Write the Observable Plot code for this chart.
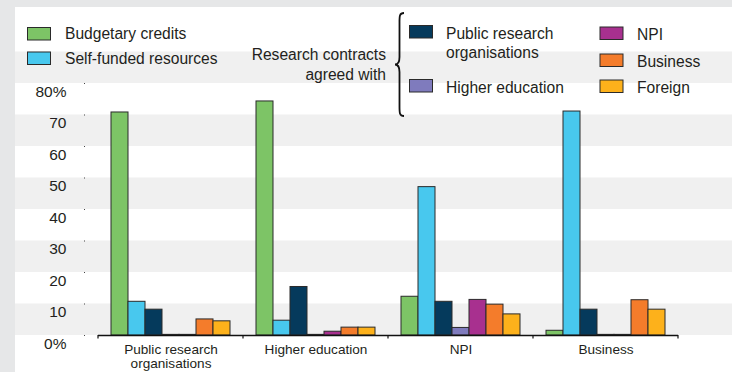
<!DOCTYPE html>
<html>
<head>
<meta charset="utf-8">
<script src="https://cdn.jsdelivr.net/npm/d3@7"></script>
<script src="https://cdn.jsdelivr.net/npm/@observablehq/plot@0.6"></script>
<style>
  html, body { margin: 0; padding: 0; background: #e6e7e8; }
  #chart { width: 732px; height: 372px; }
</style>
</head>
<body>
<div id="chart"></div>
<script>
// ---- data ----
const groups = ["Public research organisations", "Higher education", "NPI", "Business"];
const groupLabels = ["Public research\norganisations", "Higher education", "NPI", "Business"];
const series = ["Budgetary credits", "Self-funded resources", "Contracts: public research organisations",
  "Contracts: higher education", "Contracts: NPI", "Contracts: business", "Contracts: foreign"];
const seriesColors = ["#7dc466", "#48c8ee", "#053a5c", "#7f7bbd", "#a8308f", "#f47c2b", "#fdb11b"];
const budgetaryCredits   = [70.8, 74.3, 12.3, 1.5];
const selfFunded         = [10.7, 4.7, 47.1, 71.1];
const contractsPRO       = [8.2, 15.4, 10.7, 8.2];
const contractsHE        = [0.2, 0.2, 2.4, 0.2];
const contractsNPI       = [0.2, 1.2, 11.3, 0.2];
const contractsBusiness  = [5.1, 2.5, 9.8, 11.2];
const contractsForeign   = [4.5, 2.5, 6.7, 8.2];
const yTicks = [0, 10, 20, 30, 40, 50, 60, 70, 80];
const yTickLabels = ["0%", "10", "20", "30", "40", "50", "60", "70", "80%"];
const stripeRanges = [[0, 10], [20, 30], [40, 50], [60, 70], [80, 90]];

const seriesValues = [budgetaryCredits, selfFunded, contractsPRO, contractsHE, contractsNPI, contractsBusiness, contractsForeign];
const table = [];
groups.forEach((g, gi) => series.forEach((s, si) => table.push({group: g, series: s, value: seriesValues[si][gi]})));

const FONT = "'Liberation Sans', Arial, Helvetica, sans-serif";
const INK = "#231f20";

const chart = Plot.plot({
  width: 732,
  height: 372,
  marginLeft: 97,
  marginRight: 54,
  marginTop: 51.5,
  marginBottom: 37,
  style: {background: "transparent", fontFamily: FONT, fontSize: "13.6px", color: INK, overflow: "visible"},
  fx: {domain: groups, padding: 0, label: null},
  x: {domain: series, paddingInner: 0, paddingOuter: 0.74, axis: null},
  y: {domain: [0, 90], axis: null},
  color: {domain: series, range: seriesColors},
  marks: [
    Plot.axisFx({anchor: "bottom", tickSize: 0, tickPadding: 8, label: null, fontSize: 13.6, lineHeight: 1.06,
      tickFormat: g => groupLabels[groups.indexOf(g)]}),
    Plot.axisY(yTicks, {anchor: "left", tickSize: 0, tickPadding: 32, dy: 8.5, fontSize: 15.5, label: null,
      tickFormat: d => yTickLabels[yTicks.indexOf(d)]}),
    Plot.axisY(yTicks, {anchor: "left", tickSize: 1, dx: -13, label: null, tickFormat: () => "", stroke: "#444"}),
    Plot.barY(table, {fx: "group", x: "series", y: "value", fill: "series", stroke: "#2a2a2a", strokeWidth: 1}),
    Plot.ruleY([0], {stroke: "#111", strokeWidth: 1.3})
  ]
});

document.getElementById("chart").appendChild(chart);

// ---- background, panel and stripes (using the plot's own y scale) ----
const svg = d3.select(chart);
const ys = chart.scale("y");
const bg = svg.insert("g", ":first-child");
bg.append("rect").attr("x", 0).attr("y", 0).attr("width", 732).attr("height", 372).attr("fill", "#e6e7e8");
bg.append("rect").attr("x", 15).attr("y", 7).attr("width", 717).attr("height", 365).attr("fill", "#ffffff");
stripeRanges.forEach(([lo, hi]) => {
  bg.append("rect").attr("x", 15).attr("width", 717)
    .attr("y", ys.apply(hi)).attr("height", ys.apply(lo) - ys.apply(hi)).attr("fill", "#f0f0f0");
});

// group boundary ticks on the x axis
const fxs = chart.scale("fx");
const bw = fxs.bandwidth;
const y0 = ys.apply(0);
const bounds = groups.map(g => fxs.apply(g)).concat([fxs.apply(groups[groups.length - 1]) + bw]);
const gt = svg.append("g");
bounds.forEach(x => {
  gt.append("line").attr("x1", x).attr("x2", x).attr("y1", y0).attr("y2", y0 + 3.5)
    .attr("stroke", "#111").attr("stroke-width", 1.2);
});

// ---- legend ----
const lg = svg.append("g").attr("font-family", FONT).attr("font-size", 15.6).attr("fill", INK);
function swatch(x, y, color) {
  lg.append("rect").attr("x", x).attr("y", y).attr("width", 23).attr("height", 12.5)
    .attr("fill", color).attr("stroke", "#2a2a2a").attr("stroke-width", 1);
}
function label(x, y, text, anchor) {
  lg.append("text").attr("x", x).attr("y", y).attr("dy", "0.35em")
    .attr("text-anchor", anchor || "start").text(text);
}
swatch(27.5, 27.5, seriesColors[0]); label(65, 33.5, "Budgetary credits");
swatch(27.5, 52, seriesColors[1]); label(65, 58.5, "Self-funded resources");
label(386, 55, "Research contracts", "end");
label(386, 75, "agreed with", "end");
lg.append("path")
  .attr("d", "M404,13 C399.5,13 399.5,16 399.5,22 L399.5,57 C399.5,62 397.5,64.5 395,64.5 C397.5,64.5 399.5,67 399.5,72 L399.5,107 C399.5,113 399.5,116 404,116")
  .attr("fill", "none").attr("stroke", "#111").attr("stroke-width", 1.8);
swatch(409.5, 25.5, seriesColors[2]); label(446, 33.5, "Public research"); label(446, 52.5, "organisations");
swatch(409.5, 79.5, seriesColors[3]); label(446, 88, "Higher education");
swatch(600, 27, seriesColors[4]); label(637, 35, "NPI");
swatch(600, 54, seriesColors[5]); label(637, 62, "Business");
swatch(600, 80, seriesColors[6]); label(637, 88, "Foreign");
</script>
</body>
</html>
